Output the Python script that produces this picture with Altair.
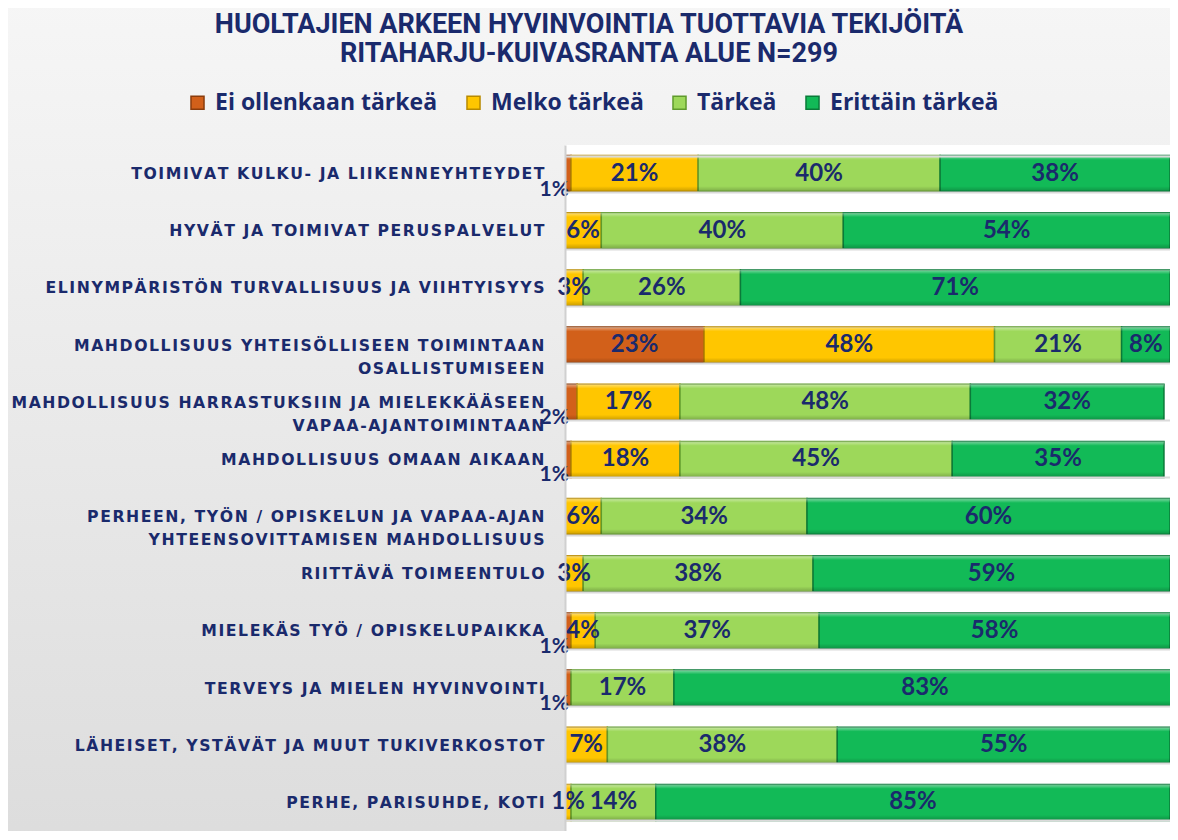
import altair as alt
import pandas as pd

categories = [
    "TOIMIVAT KULKU- JA LIIKENNEYHTEYDET",
    "HYVÄT JA TOIMIVAT PERUSPALVELUT",
    "ELINYMPÄRISTÖN TURVALLISUUS JA VIIHTYISYYS",
    "MAHDOLLISUUS YHTEISÖLLISEEN TOIMINTAAN|OSALLISTUMISEEN",
    "MAHDOLLISUUS HARRASTUKSIIN JA MIELEKKÄÄSEEN|VAPAA-AJANTOIMINTAAN",
    "MAHDOLLISUUS OMAAN AIKAAN",
    "PERHEEN, TYÖN / OPISKELUN JA VAPAA-AJAN|YHTEENSOVITTAMISEN MAHDOLLISUUS",
    "RIITTÄVÄ TOIMEENTULO",
    "MIELEKÄS TYÖ / OPISKELUPAIKKA",
    "TERVEYS JA MIELEN HYVINVOINTI",
    "LÄHEISET, YSTÄVÄT JA MUUT TUKIVERKOSTOT",
    "PERHE, PARISUHDE, KOTI",
]
series = ["Ei ollenkaan tärkeä", "Melko tärkeä", "Tärkeä", "Erittäin tärkeä"]
ei_ollenkaan = [1, 0, 0, 23, 2, 1, 0, 0, 1, 1, 0, 0]
melko = [21, 6, 3, 48, 17, 18, 6, 3, 4, 0, 7, 1]
tarkea = [40, 40, 26, 21, 48, 45, 34, 38, 37, 17, 38, 14]
erittain = [38, 54, 71, 8, 32, 35, 60, 59, 58, 83, 55, 85]
title_lines = ["HUOLTAJIEN ARKEEN HYVINVOINTIA TUOTTAVIA TEKIJÖITÄ",
               "RITAHARJU-KUIVASRANTA ALUE N=299"]
colors = ["#d2601a", "#ffc600", "#9dd85a", "#12ba57"]
strokes = ["#8a3c0c", "#b88a00", "#5f9a2c", "#0a7a39"]

NAVY = "#1a2a6c"
HAIR = "\u200a"


def spaced(s):
    # emulate the letter spacing of the reference labels
    return "|".join(HAIR.join(list(line)) for line in s.split("|"))


cat_disp = [spaced(c) for c in categories]

rows = []
for i, cat in enumerate(cat_disp):
    start = 0
    for s, vals in zip(series, [ei_ollenkaan, melko, tarkea, erittain]):
        v = vals[i]
        if v > 0:
            kind = "outside" if (s == series[0] and v <= 2) else "inside"
            rows.append({"cat": cat, "series": s, "order": series.index(s),
                         "value": v, "start": start, "end": start + v,
                         "mid": start + v / 2, "label": f"{v}%", "kind": kind})
        start += v
df = pd.DataFrame(rows)

W, H = 605, 686
PAD_L, PAD_T = 557, 137
TITLE_X = 589 - 8 - PAD_L

y_scale = alt.Scale(domain=cat_disp, paddingInner=0.37, paddingOuter=0.185)
y_enc = alt.Y("cat:N", sort=cat_disp, title=None, scale=y_scale,
              axis=alt.Axis(labelExpr="split(datum.label, '|')",
                            labelFont="DejaVu Sans", labelFontSize=15.7,
                            labelFontWeight="bold", labelColor=NAVY,
                            labelLimit=700, labelPadding=21, labelLineHeight=23,
                            ticks=False, grid=True, tickBand="extent",
                            gridColor="#dadada", gridWidth=2,
                            domainColor="#d0d0d0", domainWidth=2, zindex=2))
x_scale = alt.Scale(domain=[0, 100])

one = alt.Data(values=[{}])
bg = alt.Chart(one).mark_rect(
    color={"gradient": "linear", "x1": 0, "y1": 0, "x2": 0, "y2": 1,
           "stops": [{"offset": 0, "color": "#f6f6f6"},
                     {"offset": 1, "color": "#dcdcdc"}]}
).encode(x=alt.value(-PAD_L - 10), x2=alt.value(W + 20),
         y=alt.value(-PAD_T - 10), y2=alt.value(H + 30))

plotbg = alt.Chart(one).mark_rect(color="white").encode(
    x=alt.value(0), x2=alt.value(W + 20), y=alt.value(0), y2=alt.value(H))

title_layers = []
for line, yv in zip(title_lines, [-120, -91]):
    title_layers.append(
        alt.Chart(alt.Data(values=[{"t": line}])).mark_text(
            font="Roboto", fontSize=27, fontWeight="bold", color=NAVY,
            align="center", baseline="middle"
        ).encode(text="t:N", x=alt.value(TITLE_X), y=alt.value(yv)))

bars = alt.Chart(df).mark_bar(strokeWidth=1.5, clip=True).encode(
    y=y_enc,
    x=alt.X("start:Q", scale=x_scale, axis=None),
    x2="end:Q",
    color=alt.Color("series:N", sort=series,
                    scale=alt.Scale(domain=series, range=colors),
                    legend=alt.Legend(orient="none", legendX=-379, legendY=-54,
                                      direction="horizontal", title=None,
                                      symbolType="square", symbolSize=170,
                                      symbolStrokeWidth=1.5,
                                      labelFont="Open Sans", labelFontSize=23,
                                      labelFontWeight="bold", labelColor=NAVY,
                                      labelLimit=400, columnPadding=24,
                                      labelOffset=6)),
    stroke=alt.Stroke("series:N", sort=series,
                      scale=alt.Scale(domain=series, range=strokes), legend=None),
    order=alt.Order("order:Q"),
)

bevel = alt.Chart(df).mark_bar(
    clip=True,
    color={"gradient": "linear", "x1": 0, "y1": 0, "x2": 0, "y2": 1,
           "stops": [{"offset": 0, "color": "rgba(255,255,255,0.45)"},
                     {"offset": 0.12, "color": "rgba(255,255,255,0.0)"},
                     {"offset": 0.85, "color": "rgba(0,0,0,0.0)"},
                     {"offset": 1, "color": "rgba(0,0,0,0.22)"}]}
).encode(y=alt.Y("cat:N", sort=cat_disp, scale=y_scale),
         x=alt.X("start:Q", scale=x_scale), x2="end:Q")

inside = alt.Chart(df).transform_filter(alt.datum.kind == "inside").mark_text(
    font="Lato", fontSize=24, fontWeight="bold", color=NAVY,
    align="center", baseline="middle"
).encode(y=alt.Y("cat:N", sort=cat_disp, scale=y_scale),
         x=alt.X("mid:Q", scale=x_scale), text="label:N")

outside = alt.Chart(df).transform_filter(alt.datum.kind == "outside").mark_text(
    font="Lato", fontSize=21, fontWeight="bold", color=NAVY,
    align="right", baseline="middle", dx=4, dy=16
).encode(y=alt.Y("cat:N", sort=cat_disp, scale=y_scale),
         x=alt.X("start:Q", scale=x_scale), text="label:N")

chart = alt.layer(bg, plotbg, bars, bevel, inside, outside, *title_layers).properties(
    width=W, height=H,
    autosize=alt.AutoSizeParams(type="none"),
    padding={"left": PAD_L, "top": PAD_T, "right": 0, "bottom": 0},
).configure_view(stroke=None).configure(background="#eeeeee")

chart.save("out.html", embed_options={"renderer": "svg", "actions": False})
